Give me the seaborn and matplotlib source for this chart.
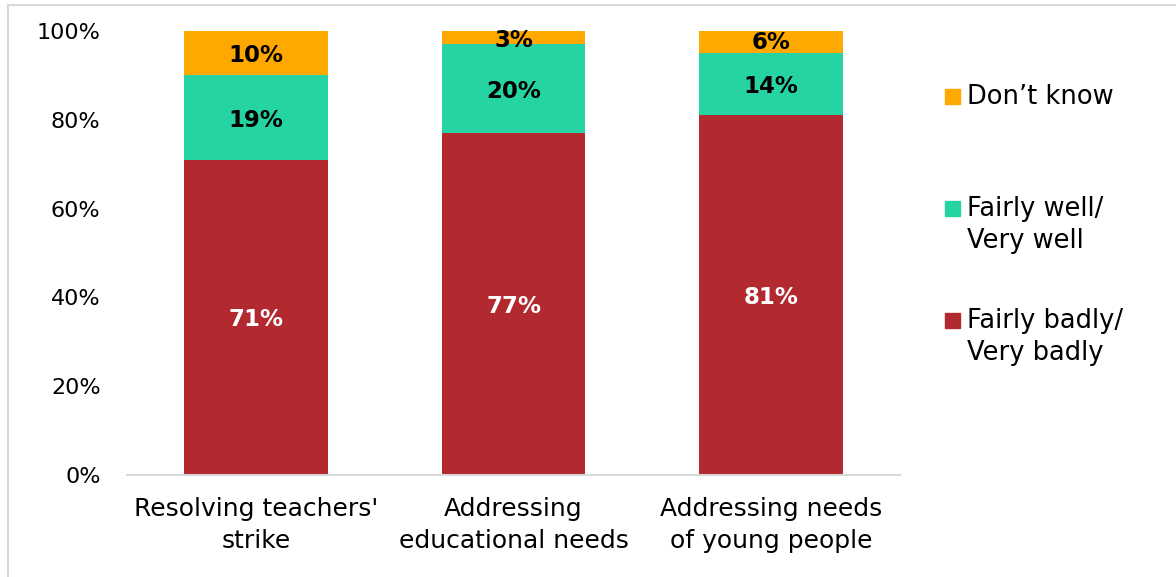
import matplotlib
matplotlib.use("Agg")
import matplotlib.pyplot as plt
from matplotlib.patches import Rectangle
import seaborn as sns
import pandas as pd
import numpy as np

categories = ["Resolving teachers'\nstrike", "Addressing\neducational needs", "Addressing needs\nof young people"]
badly = [71, 77, 81]
well = [19, 20, 14]
dont_know = [10, 3, 6]
yticks = [0, 20, 40, 60, 80, 100]

c_bad = "#B2292F"
c_well = "#26D3A3"
c_dk = "#FFA800"

sns.set_theme(style="white")
plt.rcParams['font.family'] = ['DejaVu Sans']

fig = plt.figure(figsize=(11.76, 5.77), dpi=100)
ax = fig.add_axes([127/1176, 1-475/577, (900-127)/1176, (475-31)/577])

df = pd.DataFrame({"cat": categories, "bad": badly, "well": well, "dk": dont_know})
df["cum_well"] = df["bad"] + df["well"]
df["cum_dk"] = df["cum_well"] + df["dk"]

w = 0.558
kw = dict(width=w, saturation=1, ax=ax, linewidth=0, edgecolor="none")
sns.barplot(data=df, x="cat", y="cum_dk", color=c_dk, **kw)
sns.barplot(data=df, x="cat", y="cum_well", color=c_well, **kw)
sns.barplot(data=df, x="cat", y="bad", color=c_bad, **kw)

for i in range(len(categories)):
    b, wl, d = badly[i], well[i], dont_know[i]
    ax.text(i, b/2, f"{b}%", ha="center", va="center_baseline", color="white", fontsize=16.5, fontweight="bold")
    ax.text(i, b + wl/2, f"{wl}%", ha="center", va="center_baseline", color="black", fontsize=16.5, fontweight="bold")
    ax.text(i, b + wl + d/2, f"{d}%", ha="center", va="center_baseline", color="black", fontsize=16.5, fontweight="bold")

ax.set_ylim(0, 100)
ax.set_xlim(-0.5, 2.5)
ax.set_yticks(yticks)
ax.set_yticklabels([f"{t}%" for t in yticks])
ax.set_xlabel("")
ax.set_ylabel("")
ax.tick_params(axis="y", length=0, pad=19, labelsize=16, colors="black")
ax.tick_params(axis="x", length=0, pad=16, labelsize=18, colors="black")
for lab in ax.get_xticklabels():
    lab.set_linespacing(1.4)
for s in ["top", "right", "left"]:
    ax.spines[s].set_visible(False)
ax.spines["bottom"].set_color("#D9D9D9")
ax.spines["bottom"].set_linewidth(1.5)

# legend (manual)
leg = [("Don\u2019t know", c_dk, 96), ("Fairly well/\nVery well", c_well, 208), ("Fairly badly/\nVery badly", c_bad, 320)]
for label, col, ypx in leg:
    fig.patches.append(Rectangle((945/1176, 1-(ypx+7.5)/577), 15/1176, 15/577,
                                 transform=fig.transFigure, color=col, figure=fig))
    fig.text(967/1176, 1-(ypx-12)/577, label, ha="left", va="top", fontsize=18.5,
             color="black", linespacing=1.3)

# outer border
fig.patches.append(Rectangle((8/1176, -0.01), 1.0, (577-5)/577 + 0.01, transform=fig.transFigure,
                             fill=False, edgecolor="#D9D9D9", linewidth=1.5, figure=fig))

fig.savefig("out.png", dpi=100)
